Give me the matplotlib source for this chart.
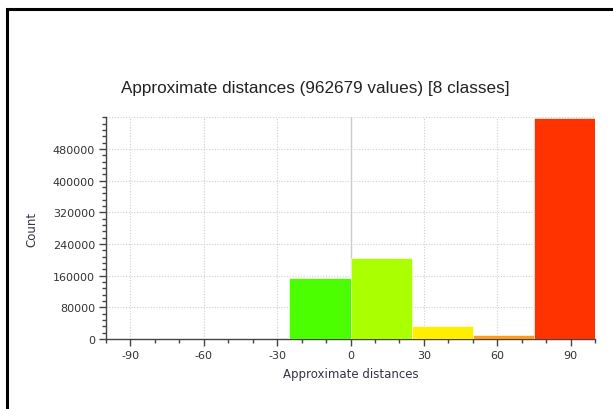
import numpy as np
import matplotlib.pyplot as plt
from matplotlib.patches import Rectangle

# histogram classes (bin edges) and counts
bin_edges = [-100, -75, -50, -25, 0, 25, 50, 75, 100]
counts = [100, 200, 400, 154000, 204700, 33700, 10100, 559479]
bar_colors = ['#0040ff', '#00c0ff', '#00ff80', '#4cff00', '#aaff00',
              '#ffee00', '#ff9a1a', '#ff3300']
x_ticks = [-90, -60, -30, 0, 30, 60, 90]
y_ticks = [0, 80000, 160000, 240000, 320000, 400000, 480000]

fig = plt.figure(figsize=(6.13, 4.10), dpi=100)
ax = fig.add_axes([106 / 613, 70 / 410, 489 / 613, 221.7 / 410])

widths = np.diff(bin_edges)
ax.bar(bin_edges[:-1], counts, width=widths, align='edge', color=bar_colors,
       edgecolor='white', linewidth=0.4, zorder=3)

ax.set_xlim(-100, 100)
ax.set_ylim(0, 560000)
ax.set_xticks(x_ticks)
ax.set_xticks(np.arange(-100, 101, 10), minor=True)
ax.set_yticks(y_ticks)
ax.set_yticks(np.arange(0, 560001, 16000), minor=True)
ax.set_xticklabels([str(t) for t in x_ticks])
ax.set_yticklabels([str(t) for t in y_ticks])

# dotted grid at major ticks (plus top line)
for t in x_ticks:
    ax.axvline(t, color='#d0d0d0', linestyle=(0, (1, 1.5)), linewidth=0.8, zorder=1)
for t in y_ticks[1:] + [560000]:
    ax.axhline(t, color='#d0d0d0', linestyle=(0, (1, 1.5)), linewidth=0.8, zorder=1)
ax.axvline(0, color='#cccccc', linewidth=1.0, zorder=2)

for s in ['top', 'right']:
    ax.spines[s].set_visible(False)
for s in ['left', 'bottom']:
    ax.spines[s].set_color('#444444')
    ax.spines[s].set_linewidth(1.0)

ax.tick_params(which='major', length=5, width=1, color='#444444',
               labelsize=8, labelcolor='#333333', pad=3)
ax.tick_params(which='minor', length=3, width=1, color='#444444')

ax.set_xlabel('Approximate distances', fontsize=8.5, color='#333344', labelpad=5)
ax.set_ylabel('Count', fontsize=8.5, color='#333344', labelpad=10)

fig.text(315 / 613, 1 - 88 / 410, 'Approximate distances (962679 values) [8 classes]',
         ha='center', va='center', fontsize=12.3, family='Liberation Sans', color='#222222')

# black frame around the figure
fig.patches.append(Rectangle((6.5 / 613, -0.05), 1.2, 1 - 9.5 / 410 + 0.05,
                             transform=fig.transFigure, fill=False,
                             edgecolor='black', linewidth=2.2))

fig.savefig('out.png', dpi=100)
